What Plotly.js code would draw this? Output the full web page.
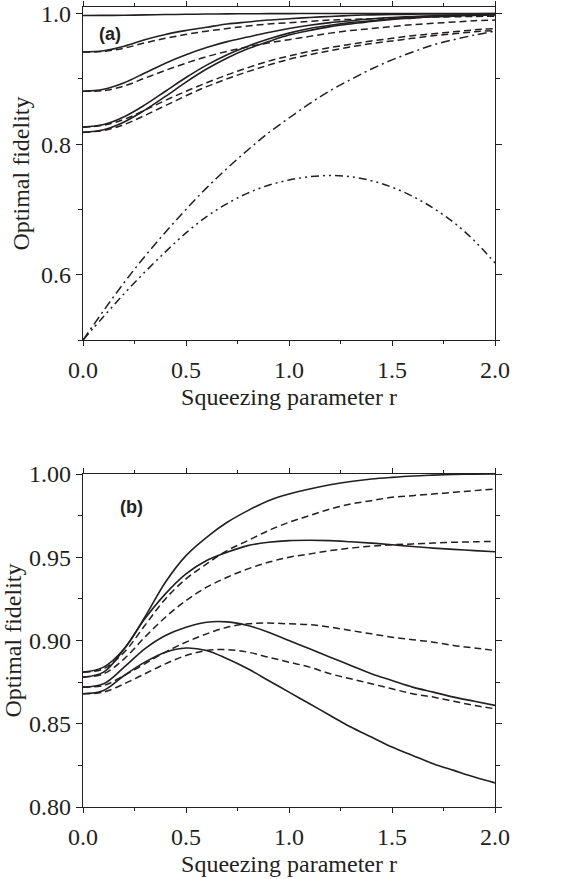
<!DOCTYPE html>
<html>
<head>
<meta charset="utf-8">
<script src="https://cdn.plot.ly/plotly-3.0.1.min.js"></script>
<style>html,body{margin:0;padding:0;background:#fff;}#chart{width:577px;height:879px;}</style>
</head>
<body>
<div id="chart"></div>
<script>
// Squeezing parameter r (shared x grid)
const r = [0,0.1,0.2,0.3,0.4,0.5,0.6,0.7,0.8,0.9,1.0,1.1,1.2,1.3,1.4,1.5,1.6,1.7,1.8,1.9,2.0];

// Panel (a) solid curves
const aSolid1 = [0.997,0.9971,0.9974,0.9979,0.9984,0.9988,0.9992,0.9995,0.9997,0.9998,0.9999,1,1,1,1,1,1,1,1,1,1];
const aSolid2 = [0.941,0.943,0.950,0.960,0.968,0.974,0.979,0.984,0.987,0.990,0.992,0.994,0.9955,0.997,0.998,0.9985,0.999,0.9993,0.9995,0.9997,0.9998];
const aSolid3 = [0.881,0.884,0.894,0.909,0.924,0.937,0.948,0.957,0.964,0.971,0.977,0.982,0.986,0.989,0.992,0.994,0.9955,0.9965,0.9975,0.998,0.9985];
const aSolid4 = [0.826,0.830,0.842,0.860,0.881,0.902,0.921,0.937,0.950,0.961,0.970,0.977,0.982,0.986,0.989,0.992,0.994,0.9955,0.997,0.998,0.9985];
const aSolid5 = [0.818,0.822,0.834,0.852,0.873,0.895,0.915,0.932,0.946,0.957,0.967,0.974,0.980,0.984,0.988,0.991,0.993,0.995,0.996,0.997,0.998];
// Panel (a) dashed curves
const aDash2 = [0.941,0.942,0.947,0.955,0.962,0.968,0.973,0.977,0.981,0.984,0.986,0.988,0.990,0.991,0.992,0.993,0.994,0.9945,0.995,0.9955,0.996];
const aDash3 = [0.881,0.882,0.889,0.901,0.913,0.924,0.934,0.942,0.949,0.955,0.960,0.965,0.970,0.974,0.977,0.980,0.983,0.985,0.987,0.989,0.990];
const aDash4 = [0.826,0.829,0.838,0.852,0.867,0.881,0.894,0.906,0.917,0.927,0.935,0.942,0.948,0.953,0.958,0.962,0.966,0.969,0.972,0.975,0.977];
const aDash5 = [0.818,0.821,0.830,0.844,0.859,0.874,0.888,0.900,0.911,0.921,0.930,0.937,0.943,0.949,0.954,0.958,0.962,0.966,0.969,0.972,0.974];
// Panel (a) dash-dot and dash-dot-dot curves
const aDashDot = [0.500,0.545,0.588,0.628,0.665,0.700,0.733,0.763,0.791,0.817,0.840,0.862,0.882,0.899,0.915,0.929,0.941,0.952,0.960,0.967,0.973];
const aDashDotDot = [0.500,0.536,0.571,0.604,0.635,0.664,0.689,0.709,0.725,0.737,0.745,0.750,0.752,0.750,0.744,0.734,0.720,0.702,0.680,0.652,0.618];

// Panel (b) solid curves
const bSolidA = [0.881,0.884,0.895,0.914,0.935,0.951,0.962,0.971,0.978,0.984,0.988,0.991,0.9935,0.9955,0.997,0.998,0.9988,0.9993,0.9997,0.9999,1.0];
const bSolidB = [0.878,0.881,0.895,0.913,0.928,0.940,0.948,0.953,0.957,0.959,0.960,0.9602,0.960,0.9593,0.9585,0.9575,0.9565,0.9555,0.9547,0.954,0.9533];
const bSolidC = [0.872,0.874,0.884,0.895,0.903,0.908,0.911,0.9112,0.909,0.905,0.900,0.895,0.890,0.885,0.880,0.876,0.872,0.869,0.866,0.8635,0.861];
const bSolidD = [0.868,0.870,0.879,0.887,0.893,0.8955,0.894,0.889,0.883,0.876,0.869,0.862,0.855,0.848,0.842,0.836,0.831,0.826,0.822,0.818,0.8145];
// Panel (b) dashed curves
const bDashA = [0.881,0.883,0.893,0.909,0.925,0.937,0.946,0.954,0.960,0.966,0.971,0.975,0.979,0.982,0.984,0.986,0.987,0.988,0.989,0.990,0.991];
const bDashB = [0.878,0.880,0.889,0.902,0.914,0.924,0.932,0.938,0.943,0.947,0.950,0.952,0.954,0.9555,0.9567,0.9575,0.958,0.9585,0.959,0.9593,0.9595];
const bDashC = [0.872,0.873,0.879,0.886,0.893,0.899,0.904,0.908,0.910,0.9105,0.910,0.9095,0.908,0.906,0.904,0.902,0.9005,0.899,0.897,0.8955,0.894];
const bDashD = [0.868,0.869,0.874,0.880,0.886,0.891,0.894,0.8945,0.893,0.890,0.887,0.884,0.880,0.877,0.874,0.871,0.868,0.866,0.8635,0.861,0.859];

const INK = '#231f20';
const SOLID = {color: INK, width: 1.6, shape: 'spline'};
const DASH = {color: INK, width: 1.5, dash: '7px,4px', shape: 'spline'};
const DASHDOT = {color: INK, width: 1.5, dash: '9px,4px,2px,4px', shape: 'spline'};
const DASHDOTDOT = {color: INK, width: 1.5, dash: '8px,4px,2px,4px,2px,4px', shape: 'spline'};

function tr(y, line, xa, ya) {
  return {x: r, y: y, mode: 'lines', line: line, xaxis: xa, yaxis: ya, hoverinfo: 'skip', showlegend: false};
}

const data = [
  tr(aDashDotDot, DASHDOTDOT, 'x', 'y'),
  tr(aDashDot, DASHDOT, 'x', 'y'),
  tr(aDash5, DASH, 'x', 'y'),
  tr(aDash4, DASH, 'x', 'y'),
  tr(aDash3, DASH, 'x', 'y'),
  tr(aDash2, DASH, 'x', 'y'),
  tr(aSolid5, SOLID, 'x', 'y'),
  tr(aSolid4, SOLID, 'x', 'y'),
  tr(aSolid3, SOLID, 'x', 'y'),
  tr(aSolid2, SOLID, 'x', 'y'),
  tr(aSolid1, SOLID, 'x', 'y'),
  tr(bDashD, DASH, 'x2', 'y2'),
  tr(bDashC, DASH, 'x2', 'y2'),
  tr(bDashB, DASH, 'x2', 'y2'),
  tr(bDashA, DASH, 'x2', 'y2'),
  tr(bSolidD, SOLID, 'x2', 'y2'),
  tr(bSolidC, SOLID, 'x2', 'y2'),
  tr(bSolidB, SOLID, 'x2', 'y2'),
  tr(bSolidA, SOLID, 'x2', 'y2')
];

const SERIF = 'Liberation Serif, Times New Roman, serif';
const tickFont = {family: SERIF, size: 24, color: INK};
const titleFont = {family: SERIF, size: 24, color: INK};

function xAxis(anchor) {
  return {
    anchor: anchor, range: [0, 2], dtick: 0.5, tick0: 0, tickformat: '.1f',
    ticks: 'outside', ticklen: 5, tickwidth: 1, tickcolor: INK, ticklabelstandoff: 3,
    minor: {dtick: 0.25, ticks: 'outside', ticklen: 3, tickcolor: INK},
    showline: true, linecolor: INK, linewidth: 1.2, mirror: 'ticks',
    showgrid: false, zeroline: false, tickfont: tickFont,
    title: {text: 'Squeezing parameter r', font: titleFont, standoff: 6}
  };
}

const layout = {
  width: 577, height: 879,
  margin: {l: 83, r: 82, t: 7, b: 72},
  paper_bgcolor: '#fff', plot_bgcolor: '#fff',
  xaxis: xAxis('y'),
  xaxis2: xAxis('y2'),
  yaxis: {
    domain: [0.58375, 1], anchor: 'x', range: [0.5, 1.01], dtick: 0.2, tick0: 0, tickformat: '.1f',
    ticks: 'outside', ticklen: 6, tickwidth: 1, tickcolor: INK,
    minor: {dtick: 0.1, ticks: 'outside', ticklen: 4, tickcolor: INK},
    showline: true, linecolor: INK, linewidth: 1.2, mirror: 'ticks',
    showgrid: false, zeroline: false, tickfont: tickFont,
    title: {text: 'Optimal fidelity', font: titleFont, standoff: 4}
  },
  yaxis2: {
    domain: [0, 0.41625], anchor: 'x2', range: [0.8, 1.0], dtick: 0.05, tick0: 0, tickformat: '.2f',
    ticks: 'outside', ticklen: 6, tickwidth: 1, tickcolor: INK,
    minor: {dtick: 0.025, ticks: 'outside', ticklen: 4, tickcolor: INK},
    showline: true, linecolor: INK, linewidth: 1.2, mirror: 'ticks',
    showgrid: false, zeroline: false, tickfont: tickFont,
    title: {text: 'Optimal fidelity', font: titleFont, standoff: 2}
  },
  annotations: [
    {text: '<b>(a)</b>', xref: 'x', yref: 'y', x: 0.13, y: 0.968, showarrow: false,
     font: {family: 'Liberation Sans, Arial, sans-serif', size: 18, color: INK}},
    {text: '<b>(b)</b>', xref: 'x2', yref: 'y2', x: 0.233, y: 0.980, showarrow: false,
     font: {family: 'Liberation Sans, Arial, sans-serif', size: 18, color: INK}}
  ]
};

Plotly.newPlot('chart', data, layout, {staticPlot: true, displayModeBar: false});
</script>
</body>
</html>
